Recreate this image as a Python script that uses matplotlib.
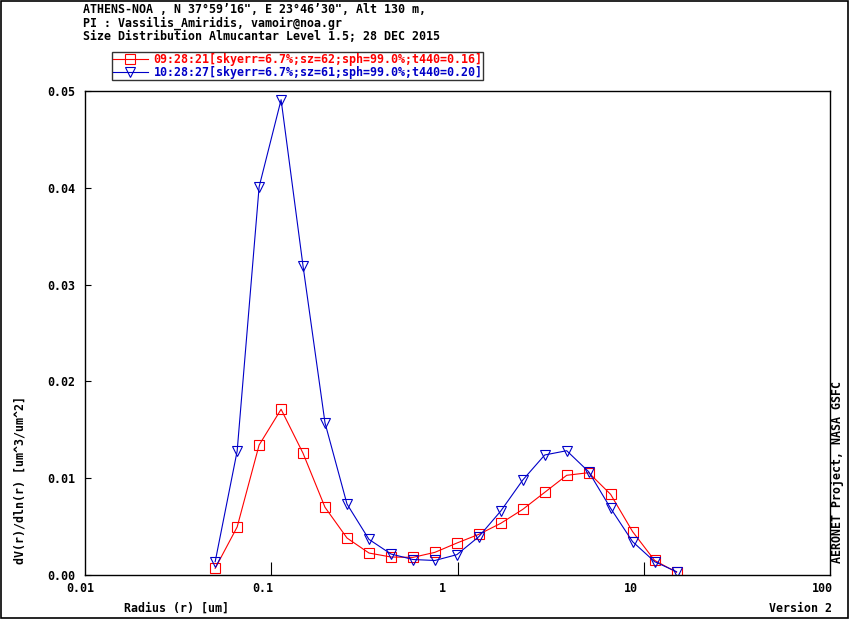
import matplotlib
matplotlib.use("Agg")
import matplotlib.pyplot as plt
from matplotlib.patches import Rectangle

# ---- data ----
radius = [0.050000, 0.065604, 0.086077, 0.112939, 0.148184, 0.194429, 0.255105,
          0.334716, 0.439173, 0.576227, 0.756052, 0.991996, 1.301571, 1.707757,
          2.240702, 2.939966, 3.857452, 5.061260, 6.640745, 8.713145, 11.432287,
          15.000000]
series1 = [0.00069, 0.00496, 0.01343, 0.01712, 0.01257, 0.00699, 0.00382,
           0.00227, 0.00186, 0.00182, 0.00234, 0.00330, 0.00420, 0.00534,
           0.00678, 0.00854, 0.01030, 0.01057, 0.00833, 0.00448, 0.00151,
           0.00028]
series2 = [0.00138, 0.01280, 0.04010, 0.04910, 0.03190, 0.01570, 0.00733,
           0.00368, 0.00217, 0.00160, 0.00150, 0.00210, 0.00396, 0.00661,
           0.00981, 0.01240, 0.01284, 0.01067, 0.00689, 0.00344, 0.00138,
           0.00034]
label1 = "09:28:21[skyerr=6.7%;sz=62;sph=99.0%;t440=0.16]"
label2 = "10:28:27[skyerr=6.7%;sz=61;sph=99.0%;t440=0.20]"
xtick_vals = [0.01, 0.1, 1, 10, 100]
xtick_labels = ["0.01", "0.1", "1", "10", "100"]
ytick_vals = [0.00, 0.01, 0.02, 0.03, 0.04, 0.05]
ytick_labels = ["0.00", "0.01", "0.02", "0.03", "0.04", "0.05"]
title_lines = ["ATHENS-NOA , N 37\u00b059\u201916\", E 23\u00b046\u201930\", Alt 130 m,",
               "PI : Vassilis_Amiridis, vamoir@noa.gr",
               "Size Distribution Almucantar Level 1.5; 28 DEC 2015"]

RED = "#FF0000"
BLUE = "#0000C8"
FS = 8.4
FONT = dict(family="DejaVu Sans Mono", weight="bold", size=FS)

W, H = 850, 620
fig = plt.figure(figsize=(W / 100, H / 100), dpi=100)

def fx(px):
    return px / W

def fy(py):
    return 1 - py / H

ax = fig.add_axes([fx(85), fy(575), (830 - 85) / W, (575 - 91) / H])
ax.set_xscale("log")
ax.set_xlim(0.01, 100)
ax.set_ylim(0, 0.05)

l1, = ax.plot(radius, series1, color=RED, lw=0.8, marker="s", ms=6.5,
              mfc="none", mec=RED, mew=0.8, label=label1)
l2, = ax.plot(radius, series2, color=BLUE, lw=0.8, marker="v", ms=6.8,
              mfc="none", mec=BLUE, mew=0.8, label=label2)

for s in ax.spines.values():
    s.set_linewidth(1.0)
    s.set_color("black")

ax.set_xticks([0.1, 1, 10])
ax.set_xticklabels([])
ax.xaxis.set_minor_locator(matplotlib.ticker.NullLocator())
ax.tick_params(axis="x", direction="in", length=9.4, width=0.8, color="black")

ax.set_yticks(ytick_vals)
ax.set_yticklabels(ytick_labels)
ax.tick_params(axis="y", direction="in", length=4.3, width=0.8, pad=7.0,
               color="black")
for t in ax.get_yticklabels():
    t.set_fontfamily("DejaVu Sans Mono")
    t.set_fontweight("bold")
    t.set_fontsize(FS)

# x tick labels (placed slightly left of the ticks as in the reference)
xlab_centers = [80.5, 263, 442, 631, 822]
for v, lab, cx in zip(xtick_vals, xtick_labels, xlab_centers):
    fig.text(fx(cx), fy(588), lab, ha="center", va="center", **FONT)

# titles
for i, line in enumerate(title_lines):
    fig.text(fx(83), fy([9.5, 23, 36][i]), line, ha="left", va="center", **FONT)

# axis labels and annotations
fig.text(fx(176), fy(608), "Radius (r) [um]", ha="center", va="center", **FONT)
fig.text(fx(20), fy(480), "dV(r)/dln(r) [um^3/um^2]", ha="center", va="center",
         rotation=90, **FONT)
fig.text(fx(832), fy(608), "Version 2", ha="right", va="center", **FONT)
fig.text(fx(838), fy(472), "AERONET Project, NASA GSFC", ha="center",
         va="center", rotation=90, **FONT)

# legend
leg = fig.legend(handles=[l1, l2], loc="upper left",
                 bbox_to_anchor=(fx(112), fy(52)), frameon=True, fancybox=False,
                 borderpad=0.05, borderaxespad=0, handlelength=3.0,
                 handletextpad=0.5, labelspacing=0.05, labelcolor="linecolor",
                 prop=dict(family="DejaVu Sans Mono", weight="bold", size=FS))
leg.get_frame().set_edgecolor("black")
leg.get_frame().set_linewidth(1.0)
leg.get_frame().set_boxstyle("square", pad=0)

# outer frame
fig.patches.append(Rectangle((fx(1), fy(618)), fx(847), (617) / H,
                             transform=fig.transFigure, fill=False,
                             edgecolor="black", linewidth=1.2))

fig.savefig("out.png", dpi=100)
